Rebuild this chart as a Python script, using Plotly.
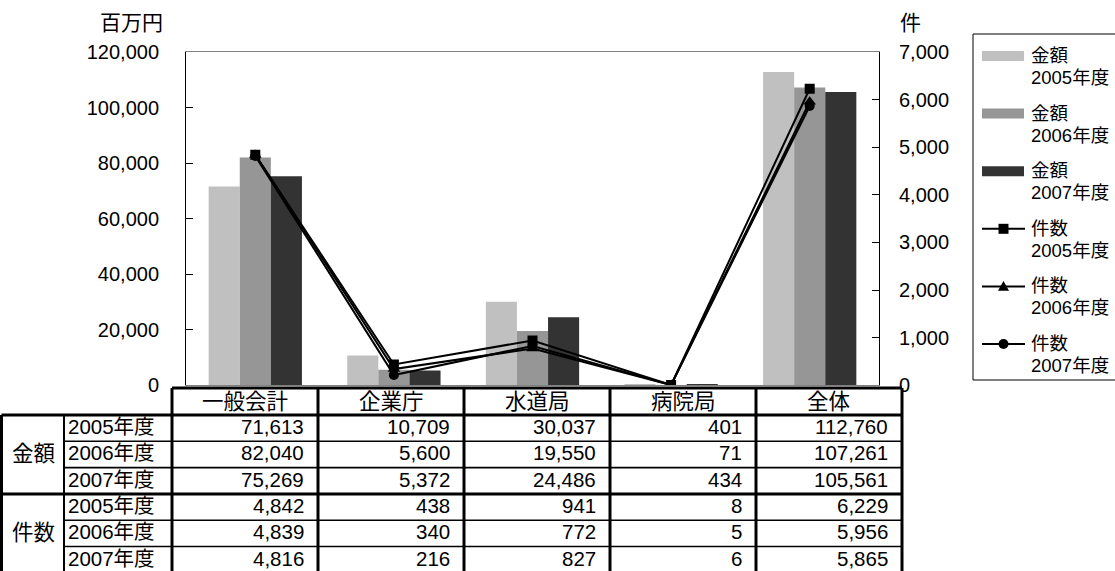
import plotly.graph_objects as go

# ---------------- data ----------------
categories = ["一般会計", "企業庁", "水道局", "病院局", "全体"]
years = ["2005年度", "2006年度", "2007年度"]
amount_2005 = [71613, 10709, 30037, 401, 112760]
amount_2006 = [82040, 5600, 19550, 71, 107261]
amount_2007 = [75269, 5372, 24486, 434, 105561]
count_2005 = [4842, 438, 941, 8, 6229]
count_2006 = [4839, 340, 772, 5, 5956]
count_2007 = [4816, 216, 827, 6, 5865]
left_ticks = [0, 20000, 40000, 60000, 80000, 100000, 120000]
right_ticks = [0, 1000, 2000, 3000, 4000, 5000, 6000, 7000]
group_labels = ["金額", "件数"]
left_unit = "百万円"
right_unit = "件"

amounts = [amount_2005, amount_2006, amount_2007]
counts = [count_2005, count_2006, count_2007]

# ---------------- styles / layout geometry (pixels) ----------------
W, H = 1115, 571
PL, PR, PT, PB = 186, 879, 52, 385.3
bar_colors = ["#C0C0C0", "#969696", "#333333"]
marker_symbols = ["square", "triangle-up", "circle"]
marker_sizes = [10, 11, 10]
FONT = "Liberation Sans, Arial, Noto Sans CJK JP, sans-serif"


def fx(px):
    return px / W


def fy(py):
    return 1 - py / H


fig = go.Figure()

for i in range(3):
    fig.add_trace(go.Bar(
        x=categories, y=amounts[i], name=group_labels[0] + years[i],
        marker=dict(color=bar_colors[i], line=dict(width=0)),
        yaxis="y", showlegend=False))

for i in range(3):
    fig.add_trace(go.Scatter(
        x=categories, y=counts[i], name=group_labels[1] + years[i],
        mode="lines+markers", yaxis="y2",
        line=dict(color="black", width=2),
        marker=dict(symbol=marker_symbols[i], size=marker_sizes[i], color="black"),
        showlegend=False))

shapes = []
annotations = []


def text_at(x, y, s, size, anchor="center"):
    annotations.append(dict(x=fx(x), y=fy(y), xref="paper", yref="paper", text=s,
                            showarrow=False, xanchor=anchor, yanchor="middle", borderpad=0,
                            font=dict(size=size, color="black", family=FONT)))


# axis unit titles
text_at(131, 23, left_unit, 21)
text_at(910, 23, right_unit, 21)

# ---------------- data table ----------------
col_edges = [172, 318, 464, 610, 756, 902]
left_edge, group_right = 1.5, 64
head_top, head_bot = 388, 415
row_h = 26.3
row_edges = [head_bot + row_h * k for k in range(7)]
THICK, MID, THIN = 3, 2, 1.6


def hline(x0, x1, y, w):
    shapes.append(dict(type="line", xref="paper", yref="paper", x0=fx(x0), x1=fx(x1),
                       y0=fy(y), y1=fy(y), line=dict(color="black", width=w), layer="above"))


def vline(x, y0, y1, w):
    shapes.append(dict(type="line", xref="paper", yref="paper", x0=fx(x), x1=fx(x),
                       y0=fy(y0), y1=fy(y1), line=dict(color="black", width=w), layer="above"))


# white background of table
shapes.append(dict(type="rect", xref="paper", yref="paper", x0=fx(col_edges[0]), x1=fx(col_edges[-1]),
                   y0=fy(head_top), y1=fy(head_bot), fillcolor="white", line=dict(width=0), layer="above"))
shapes.append(dict(type="rect", xref="paper", yref="paper", x0=fx(left_edge), x1=fx(col_edges[-1]),
                   y0=fy(head_bot), y1=fy(H + 5), fillcolor="white", line=dict(width=0), layer="above"))

for k in [1, 2, 4, 5]:
    hline(group_right, col_edges[-1], row_edges[k], THIN)
hline(left_edge, col_edges[-1], row_edges[3], THICK)
hline(col_edges[0], col_edges[-1], head_top, THICK)
hline(left_edge, col_edges[-1], head_bot, THICK)
vline(left_edge, head_bot, H + 5, THICK)
vline(group_right, head_bot, H + 5, MID)
for xe in col_edges:
    vline(xe, head_top, H + 5, THICK)

TFS = 20.5
for j, c in enumerate(categories):
    cx = (col_edges[j] + col_edges[j + 1]) / 2
    text_at(cx, (head_top + head_bot) / 2 + 0.5, c, 21.5)

table_rows = amounts + counts
for r, vals in enumerate(table_rows):
    yc = (row_edges[r] + row_edges[r + 1]) / 2 - 1.5
    text_at(group_right + 3, yc, years[r % 3], TFS, "left")
    for j, v in enumerate(vals):
        text_at(col_edges[j + 1] - 13, yc, f"{v:,}", TFS, "right")

for g in range(2):
    yc = (row_edges[3 * g] + row_edges[3 * g + 3]) / 2
    text_at((left_edge + group_right) / 2 + 1, yc, group_labels[g], 21.5)

# ---------------- legend (drawn manually) ----------------
LX0, LX1, LY0, LY1 = 973, 1125, 34, 380
shapes.append(dict(type="rect", xref="paper", yref="paper", x0=fx(LX0), x1=fx(LX1), y0=fy(LY0), y1=fy(LY1),
                   fillcolor="white", line=dict(color="black", width=1), layer="above"))
item_step = 57.6
sw0, sw1, txt_x = 982, 1024, 1030
LFS = 18.5
for i in range(6):
    yc = 56 + item_step * i
    if i < 3:
        shapes.append(dict(type="rect", xref="paper", yref="paper", x0=fx(sw0), x1=fx(sw1),
                           y0=fy(yc - 5), y1=fy(yc + 5), fillcolor=bar_colors[i],
                           line=dict(width=0), layer="above"))
        line1 = group_labels[0]
    else:
        k = i - 3
        shapes.append(dict(type="line", xref="paper", yref="paper", x0=fx(sw0), x1=fx(sw1 + 1),
                           y0=fy(yc), y1=fy(yc), line=dict(color="black", width=2), layer="above"))
        mx = (sw0 + sw1 + 1) / 2
        s = marker_sizes[k] / 2
        if marker_symbols[k] == "square":
            shapes.append(dict(type="rect", xref="paper", yref="paper", x0=fx(mx - s), x1=fx(mx + s),
                               y0=fy(yc - s), y1=fy(yc + s), fillcolor="black", line=dict(width=0),
                               layer="above"))
        elif marker_symbols[k] == "circle":
            shapes.append(dict(type="circle", xref="paper", yref="paper", x0=fx(mx - s), x1=fx(mx + s),
                               y0=fy(yc - s), y1=fy(yc + s), fillcolor="black", line=dict(width=0),
                               layer="above"))
        else:
            path = (f"M {fx(mx - s)} {fy(yc + s * 0.8)} L {fx(mx + s)} {fy(yc + s * 0.8)} "
                    f"L {fx(mx)} {fy(yc - s)} Z")
            shapes.append(dict(type="path", xref="paper", yref="paper", path=path, fillcolor="black",
                               line=dict(width=0), layer="above"))
        line1 = group_labels[1]
    text_at(txt_x, yc - 0.5, line1, LFS, "left")
    text_at(txt_x, yc + 21.5, years[i % 3], LFS, "left")

fig.update_layout(
    width=W, height=H,
    margin=dict(l=0, r=0, t=0, b=0),
    paper_bgcolor="white", plot_bgcolor="rgba(0,0,0,0)",
    barmode="group", bargap=0.327, bargroupgap=0,
    showlegend=False,
    font=dict(family=FONT, color="black", size=20),
    xaxis=dict(domain=[fx(PL), fx(PR)], type="category", showticklabels=False, ticks="",
               showgrid=False, zeroline=False, showline=True, linecolor="#808080", linewidth=1,
               mirror=True, fixedrange=True),
    yaxis=dict(domain=[fy(PB), fy(PT)], range=[0, 120000], tickvals=left_ticks,
               tickformat=",", ticks="inside", ticklen=7, tickcolor="black", tickwidth=1,
               showgrid=False, zeroline=False, showline=True, linecolor="black", linewidth=1,
               ticklabelstandoff=22, tickfont=dict(size=20, color="black", family=FONT),
               automargin=False),
    yaxis2=dict(overlaying="y", side="right", range=[0, 7000], tickvals=right_ticks,
                tickformat=",", ticks="inside", ticklen=7, tickcolor="black", tickwidth=1,
                showgrid=False, zeroline=False, showline=True, linecolor="black", linewidth=1,
                ticklabelstandoff=15, tickfont=dict(size=20, color="black", family=FONT),
                automargin=False),
    shapes=shapes,
    annotations=annotations,
)

# remove the browser's default 8px page margin so the figure sits at the window's corner
fig.write_html("out.html", config={"displayModeBar": False},
               post_script="document.body.style.margin='0';document.body.style.overflow='hidden';")
